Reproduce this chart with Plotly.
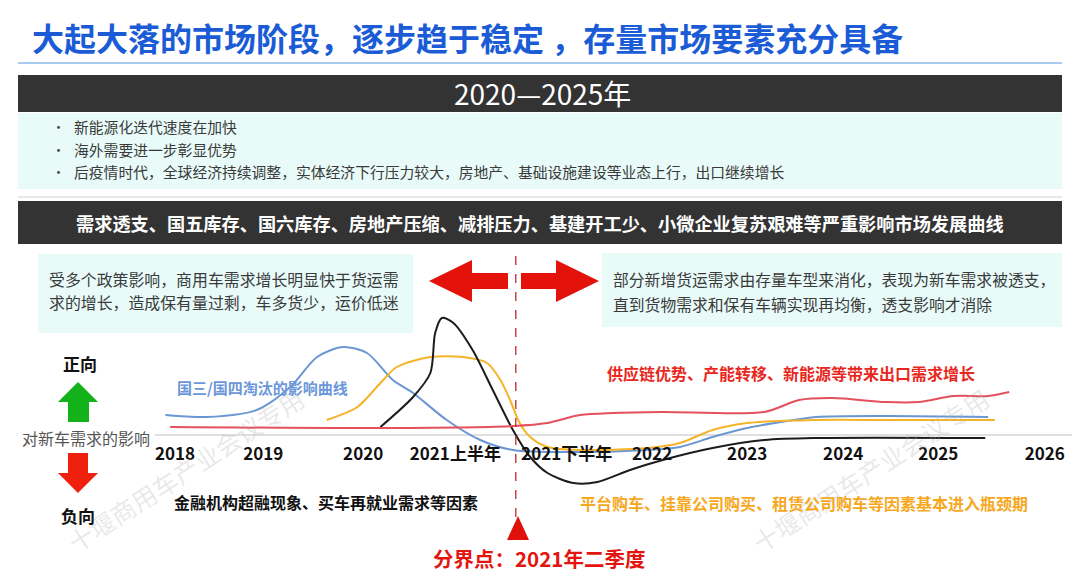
import plotly.graph_objects as go

# --- 数据 ---
# x 轴：按时间段编号，0 = 2018，1 = 2019 ...
TICK_POS = [0.0, 0.92, 1.96, 2.92, 4.08, 4.97, 5.96, 6.96, 7.95, 9.06]
TICK_LABELS = ['2018', '2019', '2020', '2021上半年', '2021下半年',
               '2022', '2023', '2024', '2025', '2026']
DIVIDER_X = 3.55  # 分界点：2021年二季度

# 国三/国四淘汰的影响曲线（蓝）
blue_x = [-0.10, 0.33, 0.85, 1.20, 1.48, 1.75, 2.00, 2.27, 2.48, 2.83, 3.18, 3.52,
          4.22, 4.92, 5.26, 5.60, 5.96, 6.31, 6.68, 7.40, 8.47]
blue_y = [1.00, 0.90, 1.25, 2.40, 3.90, 4.40, 4.10, 2.75, 2.10, 0.75, -0.25, -0.75,
          -0.85, -0.75, -0.60, -0.10, 0.35, 0.65, 0.90, 0.95, 0.90]

# 平台购车、挂靠公司等（橙）
orange_x = [1.58, 1.90, 2.14, 2.31, 2.66, 3.00, 3.25, 3.39, 3.49, 3.59, 3.70, 3.88,
            4.22, 4.92, 5.26, 5.60, 5.96, 6.68, 7.40, 8.54]
orange_y = [0.75, 1.40, 2.60, 3.40, 3.90, 3.90, 3.60, 2.75, 1.75, 0.60, -0.10, -0.60,
            -0.75, -0.65, -0.40, 0.25, 0.60, 0.75, 0.75, 0.75]

# 金融机构超融等（黑）
black_x = [2.14, 2.48, 2.66, 2.71, 2.78, 2.90, 3.10, 3.31, 3.52, 3.70, 3.88, 4.15,
           4.40, 4.74, 5.08, 5.60, 6.14, 6.68, 8.44]
black_y = [0.40, 1.90, 3.10, 5.10, 5.85, 5.60, 4.25, 2.25, 0.25, -1.10, -1.90, -2.40,
           -2.35, -1.75, -1.25, -0.65, -0.25, -0.15, -0.15]

# 出口需求（红）
red_x = [-0.05, 2.06, 3.52, 3.88, 4.22, 4.56, 5.08, 6.14, 6.50, 6.85, 7.40, 7.75,
         8.11, 8.47, 8.69]
red_y = [0.40, 0.35, 0.45, 0.60, 1.00, 1.10, 1.15, 1.15, 1.75, 1.85, 1.65, 1.65,
         1.95, 1.95, 2.15]

# 页面 body 自带 8px 边距，图本身缩小并整体左上移
OFF = 8
W, H = 1072, 572
CJK = 'Noto Sans CJK SC'


def px(x):
    return (x - OFF) / W


def py(y):
    return 1 - (y - OFF) / H


def poly(points):
    return 'M ' + ' L '.join(f'{px(a):.5f},{py(b):.5f}' for a, b in points) + ' Z'


fig = go.Figure()

series = [
    (blue_x, blue_y, '#6b96d2'),
    (orange_x, orange_y, '#f4b42a'),
    (black_x, black_y, '#1c1c1c'),
    (red_x, red_y, '#e4505c'),
]
for xs, ys, c in series:
    fig.add_trace(go.Scatter(x=xs, y=ys, mode='lines',
                             line=dict(color=c, width=2, shape='spline', smoothing=0.8),
                             hoverinfo='skip', showlegend=False))

shapes = []
# 标题下蓝线
shapes.append(dict(type='line', xref='paper', yref='paper', x0=px(18), x1=px(1062),
                   y0=py(63), y1=py(63), line=dict(color='#a9cbef', width=2)))
# 深色标题条 + 浅色说明框
shapes.append(dict(type='rect', xref='paper', yref='paper', x0=px(18), x1=px(1062),
                   y0=py(112), y1=py(75), fillcolor='#333333', line=dict(width=0)))
shapes.append(dict(type='rect', xref='paper', yref='paper', x0=px(18), x1=px(1062),
                   y0=py(189), y1=py(113), fillcolor='#e8fbf8', line=dict(width=0)))
shapes.append(dict(type='line', xref='paper', yref='paper', x0=px(18), x1=px(1062),
                   y0=py(197), y1=py(197), line=dict(color='#cfcfcf', width=1)))
shapes.append(dict(type='rect', xref='paper', yref='paper', x0=px(18), x1=px(1062),
                   y0=py(244), y1=py(201), fillcolor='#333333', line=dict(width=0)))
shapes.append(dict(type='rect', xref='paper', yref='paper', x0=px(38), x1=px(413),
                   y0=py(333), y1=py(254), fillcolor='#e8fbf8', line=dict(width=0)))
shapes.append(dict(type='rect', xref='paper', yref='paper', x0=px(602), x1=px(1062),
                   y0=py(327), y1=py(253), fillcolor='#e8fbf8', line=dict(width=0)))
# 基准线
shapes.append(dict(type='line', xref='paper', yref='y', x0=px(155), x1=1, y0=0, y1=0,
                   line=dict(color='#d4d4d4', width=1.5), layer='below'))
# 分界线
shapes.append(dict(type='line', xref='x', yref='paper', x0=DIVIDER_X, x1=DIVIDER_X,
                   y0=py(517), y1=py(250), line=dict(color='#c0282a', width=1.3, dash='dash')))
# 红色左右箭头
shapes.append(dict(type='path', xref='paper', yref='paper', line=dict(width=0), fillcolor='#e3120b',
                   path=poly([(429, 281), (472, 260), (472, 273), (508, 273), (508, 289),
                              (472, 289), (472, 302)])))
shapes.append(dict(type='path', xref='paper', yref='paper', line=dict(width=0), fillcolor='#e3120b',
                   path=poly([(599, 281), (556, 260), (556, 273), (521, 273), (521, 289),
                              (556, 289), (556, 302)])))
# 正向 / 负向箭头
shapes.append(dict(type='path', xref='paper', yref='paper', line=dict(width=0), fillcolor='#13b21a',
                   path=poly([(78, 382), (98, 402), (89, 402), (89, 422), (68, 422),
                              (68, 402), (58, 402)])))
shapes.append(dict(type='path', xref='paper', yref='paper', line=dict(width=0), fillcolor='#f0200f',
                   path=poly([(78, 493), (98, 473), (88, 473), (88, 453), (68, 453),
                              (68, 473), (58, 473)])))
# 分界点三角
shapes.append(dict(type='path', xref='paper', yref='paper', line=dict(width=0), fillcolor='#e0110b',
                   path=poly([(518, 516), (529, 540), (507, 540)])))

ann = []


def text(x, y, s, size, color, bold=False, anchor='left', angle=0):
    ann.append(dict(x=px(x), y=py(y), xref='paper', yref='paper', text=s, showarrow=False,
                    xanchor=anchor, yanchor='middle', textangle=angle,
                    font=dict(family=CJK, size=size, color=color,
                              weight='bold' if bold else 'normal')))


# 水印
text(185, 470, '十堰商用车产业会议专用', 25, 'rgba(175,175,175,0.28)', anchor='center', angle=-33)
text(870, 470, '十堰商用车产业会议专用', 25, 'rgba(175,175,175,0.28)', anchor='center', angle=-33)

text(30, 37, '大起大落的市场阶段，逐步趋于稳定 ，存量市场要素充分具备', 32, '#1b5cd6', bold=True)
text(542, 93, '2020—2025年', 28, '#ffffff', anchor='center')
bullets = ['新能源化迭代速度在加快', '海外需要进一步彰显优势',
           '后疫情时代，全球经济持续调整，实体经济下行压力较大，房地产、基础设施建设等业态上行，出口继续增长']
for k, b in enumerate(bullets):
    text(50, 127 + 22.5 * k, '•', 13, '#444444')
    text(72, 127 + 22.5 * k, b, 14.8, '#3a3a3a')
text(540, 223, '需求透支、国五库存、国六库存、房地产压缩、减排压力、基建开工少、小微企业复苏艰难等严重影响市场发展曲线',
     18.2, '#ffffff', bold=True, anchor='center')
text(47, 279, '受多个政策影响，商用车需求增长明显快于货运需', 15.9, '#3a3a3a')
text(47, 302, '求的增长，造成保有量过剩，车多货少，运价低迷', 15.9, '#3a3a3a')
text(611, 279, '部分新增货运需求由存量车型来消化，表现为新车需求被透支，', 15.8, '#3a3a3a')
text(611, 304, '直到货物需求和保有车辆实现再均衡，透支影响才消除', 15.8, '#3a3a3a')

text(80, 363, '正向', 17, '#111111', bold=True, anchor='center')
text(86, 438, '对新车需求的影响', 16, '#555555', anchor='center')
text(78, 515, '负向', 17, '#111111', bold=True, anchor='center')

text(175, 387, '国三/国四淘汰的影响曲线', 15, '#6b96d9', bold=True)
text(605, 373, '供应链优势、产能转移、新能源等带来出口需求增长', 16, '#e8281e', bold=True)
text(172, 502, '金融机构超融现象、买车再就业需求等因素', 16, '#111111', bold=True)
text(578, 503, '平台购车、挂靠公司购买、租赁公司购车等因素基本进入瓶颈期', 16, '#f6a81e', bold=True)
text(539, 558, '分界点：2021年二季度', 20.5, '#e3150e', bold=True, anchor='center')

# 像素与数据单位对应：参考图中 x = 175 + 96 * i，y = 435 - 20 * v
fig.update_layout(
    width=W, height=H,
    margin=dict(l=0, r=0, t=0, b=0, pad=0),
    paper_bgcolor='white', plot_bgcolor='white',
    showlegend=False,
    shapes=shapes,
    annotations=ann,
    xaxis=dict(range=[-(175 - OFF) / 96, (W + OFF - 175) / 96], domain=[0, 1],
               anchor='free', position=py(442),
               tickmode='array', tickvals=TICK_POS, ticktext=TICK_LABELS, tickangle=0,
               tickfont=dict(family=CJK, size=17, color='#111111', weight='bold'),
               showgrid=False, zeroline=False, showline=False, ticks=''),
    yaxis=dict(range=[(435 - OFF - H) / 20, (435 - OFF) / 20], domain=[0, 1],
               visible=False, fixedrange=True),
)

fig.write_html('out.html')
